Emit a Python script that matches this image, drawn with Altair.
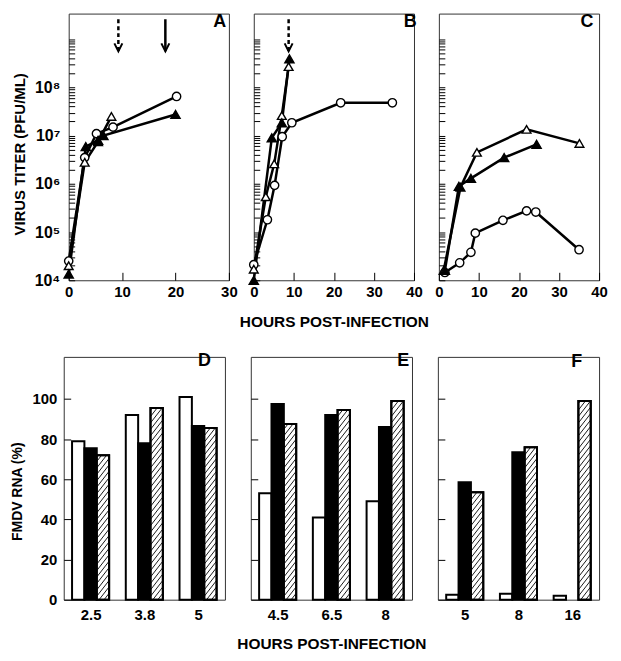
import json
import altair as alt
import pandas as pd

FONT = "Liberation Sans"

# ---------------- Top panels: virus titer (PFU/ml) vs hours ----------------
series_names = ["circle", "open", "filled"]

a_circle_h = [0, 3, 5.2, 8.3, 20.2]
a_circle_v = [2.5e4, 3.5e6, 1.1e7, 1.5e7, 6.5e7]
a_open_h = [0, 3, 5.5, 8]
a_open_v = [2.0e4, 2.8e6, 7.5e6, 2.5e7]
a_filled_h = [0, 3.2, 5.5, 6.5, 20]
a_filled_v = [1.35e4, 5.9e6, 8.0e6, 1.0e7, 2.75e7]

b_circle_h = [0, 3.4, 5.2, 7.1, 9.5, 21.7, 34.6]
b_circle_v = [2.1e4, 1.8e5, 9.3e5, 9.5e6, 1.85e7, 4.8e7, 4.8e7]
b_open_h = [0, 3, 5.1, 7, 8.7]
b_open_v = [1.7e4, 5.4e5, 2.6e6, 2.6e7, 2.7e8]
b_filled_h = [0, 4.5, 7, 8.9]
b_filled_v = [1.0e4, 9.0e6, 1.85e7, 3.9e8]

c_circle_h = [1.5, 5.2, 8, 9.1, 16, 21.9, 24.2, 35]
c_circle_v = [1.45e4, 2.3e4, 3.8e4, 9.5e4, 1.75e5, 2.75e5, 2.6e5, 4.3e4]
c_open_h = [1.2, 5.4, 9.5, 21.9, 35.1]
c_open_v = [1.6e4, 8.5e5, 4.5e6, 1.35e7, 6.9e6]
c_filled_h = [1.5, 5, 8, 16.3, 24.4]
c_filled_v = [1.6e4, 8.9e5, 1.3e6, 3.5e6, 6.6e6]

# arrows (hour, style) drawn from arrow_top down to arrow_tip
a_arrow_h = [9.3, 18.1]
a_arrow_style = ["dashed", "solid"]
b_arrow_h = [8.7]
b_arrow_style = ["dashed"]
arrow_top = 2.6e9
arrow_tip = 5.6e8

decade_vals = [1e4, 1e5, 1e6, 1e7, 1e8]
decade_text = ["10⁴", "10⁵", "10⁶", "10⁷", "10⁸"]

# ---------------- Bottom panels: FMDV RNA (%) ----------------
kinds = ["white", "black", "hatched"]

d_hours = ["2.5", "3.8", "5"]
d_white = [79, 92, 101]
d_black = [75.5, 78, 86.5]
d_hatched = [72, 95.5, 85.5]

e_hours = ["4.5", "6.5", "8"]
e_white = [53, 41, 49]
e_black = [97.5, 92, 86]
e_hatched = [87.5, 94.5, 99]

f_hours = ["5", "8", "16"]
f_white = [2.5, 3, 2]
f_black = [58.5, 73.5, 0]
f_hatched = [53.5, 76, 99]

# ---------------- helpers ----------------
ytick_vals = [m * 10 ** k for k in range(4, 9) for m in range(1, 10)] + [1e9]
label_expr = " : ".join(
    f"datum.value == {v} ? '{t}'" for v, t in zip(decade_vals, decade_text)
) + " : ''"


def letter_title(letter, dx, dy):
    return alt.TitleParams(
        text=letter, anchor="end", orient="top", offset=0, dx=dx, dy=dy,
        baseline="alphabetic", font=FONT, fontSize=18, fontWeight="bold",
        color="black",
    )


def growth_panel(series, arrows, xmax, xticks, letter, ldx, first, middle):
    rows = []
    for name, (hs, vs) in zip(series_names, series):
        for h, v in zip(hs, vs):
            rows.append({"hour": h, "titer": v, "series": name})
    df = pd.DataFrame(rows)

    xs = alt.Scale(domain=[0, xmax], nice=False, zero=False)
    ys = alt.Scale(type="log", domain=[1e4, 3.4e9], nice=False)
    xaxis = alt.Axis(
        values=xticks, tickSize=8, offset=-8, domain=False, grid=False,
        labelFlush=False, labelPadding=4,
        title="HOURS POST-INFECTION" if middle else None,
        titlePadding=15, titleFontSize=15.5,
    )
    yaxis = alt.Axis(
        values=ytick_vals, labelExpr=label_expr, labels=first, tickSize=6,
        offset=-6, domain=False, grid=False, labelPadding=9,
        labelOverlap=False, labelFontSize=16,
        title="VIRUS TITER (PFU/ML)" if first else None,
        titlePadding=7, titleY=141, titleFontSize=15,
    )
    x = alt.X("hour:Q", scale=xs, axis=xaxis)
    y = alt.Y("titer:Q", scale=ys, axis=yaxis)

    base = alt.Chart(df)
    lines = base.mark_line(color="black", strokeWidth=2.5).encode(
        x=x, y=y, detail="series:N", order="hour:Q"
    )
    points = base.mark_point(filled=True, stroke="black", strokeWidth=1.4, opacity=1).encode(
        x=x, y=y,
        shape=alt.Shape("series:N", scale=alt.Scale(domain=series_names,
                        range=["circle", "triangle-up", "triangle-up"]), legend=None),
        fill=alt.Fill("series:N", scale=alt.Scale(domain=series_names,
                      range=["white", "white", "black"]), legend=None),
        size=alt.Size("series:N", scale=alt.Scale(domain=series_names,
                      range=[70, 85, 85]), legend=None),
    )
    layers = [lines, points]
    if arrows:
        hs, styles = arrows
        adf = pd.DataFrame({"hour": hs, "style": styles,
                            "top": [arrow_top] * len(hs), "tip": [arrow_tip] * len(hs)})
        abase = alt.Chart(adf)
        shaft = abase.mark_rule(color="black", strokeWidth=2.5).encode(
            x=alt.X("hour:Q", scale=xs, axis=xaxis),
            y=alt.Y("top:Q", scale=ys, axis=yaxis),
            y2="tip:Q",
            strokeDash=alt.StrokeDash("style:N", scale=alt.Scale(
                domain=["dashed", "solid"], range=[[4, 3], [1, 0]]), legend=None),
        )
        head = abase.mark_point(shape="M-0.8,-1.6L0,0L0.8,-1.6", filled=False,
                                color="black", strokeWidth=2, size=100, opacity=1).encode(
            x=alt.X("hour:Q", scale=xs, axis=xaxis),
            y=alt.Y("tip:Q", scale=ys, axis=yaxis),
        )
        layers += [shaft, head]
    return alt.layer(*layers).properties(
        width=161, height=268, title=letter_title(letter, ldx, 31)
    )


BW = 0.23      # bar width in group units
RISE = 7.9     # hatch rise across one bar (value units)
GAP = 3.2      # vertical gap between hatch lines (value units)


def rna_panel(hours, white, black, hatched, letter, ldx, ldy, first, middle):
    rows = []
    for g, lab in enumerate(hours):
        for s, vals in enumerate([white, black, hatched]):
            rows.append({"g": g, "hour": lab, "s": s, "kind": kinds[s], "value": vals[g]})
    df = pd.DataFrame(rows)

    xs = alt.Scale(domain=[0, 3], nice=False, zero=False)
    ys = alt.Scale(domain=[0, 121], nice=False)
    xaxis = alt.Axis(
        values=[0.5, 1.5, 2.5],
        labelExpr=f"{json.dumps(hours)}[floor(datum.value)]".replace('"', "'"),
        ticks=False, domain=False, grid=False, labelPadding=8,
        title="HOURS POST-INFECTION" if middle else None,
        titlePadding=14, titleFontSize=15.5,
    )
    yaxis = alt.Axis(
        values=[0, 20, 40, 60, 80, 100], tickSize=7, offset=-7, domain=False,
        grid=False, labels=first, labelPadding=7,
        title="FMDV RNA (%)" if first else None, titlePadding=7, titleY=135,
        titleFontSize=14,
    )

    base = alt.Chart(df).transform_calculate(
        xc=f"datum.g + 0.5 + (datum.s - 1) * {BW}"
    ).transform_calculate(
        x0=f"datum.xc - {BW / 2}", x1=f"datum.xc + {BW / 2}"
    )

    bars = base.transform_filter("datum.value > 0").mark_rect(
        stroke="black", strokeWidth=2, opacity=1
    ).encode(
        x=alt.X("x0:Q", scale=xs, axis=xaxis),
        x2="x1:Q",
        y=alt.Y("value:Q", scale=ys, axis=yaxis),
        y2=alt.datum(0),
        fill=alt.Fill("kind:N", scale=alt.Scale(domain=kinds,
                      range=["white", "black", "white"]), legend=None),
    )

    hatch = base.transform_filter("datum.kind == 'hatched'").transform_calculate(
        k=f"sequence(0, ceil((datum.value + {RISE}) / {GAP}) + 1)"
    ).transform_flatten(["k"]).transform_calculate(
        yl=f"datum.k * {GAP} - {RISE}"
    ).transform_calculate(
        yr=f"datum.yl + {RISE}"
    ).transform_filter(
        "datum.yr > 0 && datum.yl < datum.value"
    ).transform_calculate(
        xa=f"datum.yl < 0 ? datum.x0 + (-datum.yl) / {RISE} * {BW} : datum.x0",
        ya="max(datum.yl, 0)",
        xb=f"datum.yr > datum.value ? datum.x1 - (datum.yr - datum.value) / {RISE} * {BW} : datum.x1",
        yb="min(datum.yr, datum.value)",
    ).mark_rule(color="black", strokeWidth=0.9).encode(
        x=alt.X("xa:Q", scale=xs, axis=xaxis),
        x2="xb:Q",
        y=alt.Y("ya:Q", scale=ys, axis=yaxis),
        y2="yb:Q",
    )

    outline = base.transform_filter("datum.kind == 'hatched'").mark_rect(
        fillOpacity=0, stroke="black", strokeWidth=2
    ).encode(
        x=alt.X("x0:Q", scale=xs, axis=xaxis),
        x2="x1:Q",
        y=alt.Y("value:Q", scale=ys, axis=yaxis),
        y2=alt.datum(0),
    )
    return alt.layer(bars, hatch, outline).properties(
        width=162, height=244, title=letter_title(letter, ldx, ldy)
    )


A = growth_panel([(a_circle_h, a_circle_v), (a_open_h, a_open_v), (a_filled_h, a_filled_v)],
                 (a_arrow_h, a_arrow_style), 30, [0, 10, 20, 30], "A", -11, True, False)
B = growth_panel([(b_circle_h, b_circle_v), (b_open_h, b_open_v), (b_filled_h, b_filled_v)],
                 (b_arrow_h, b_arrow_style), 40, [0, 10, 20, 30, 40], "B", -12, False, True)
C = growth_panel([(c_circle_h, c_circle_v), (c_open_h, c_open_v), (c_filled_h, c_filled_v)],
                 None, 40, [0, 10, 20, 30, 40], "C", -14, False, False)

D = rna_panel(d_hours, d_white, d_black, d_hatched, "D", -14, 27, True, False)
E = rna_panel(e_hours, e_white, e_black, e_hatched, "E", -17, 27, False, True)
F = rna_panel(f_hours, f_white, f_black, f_hatched, "F", -17, 28, False, False)

# invisible 5px spacer so the top row starts slightly right of the bottom row
spacer = alt.Chart(pd.DataFrame({"v": [0]})).mark_point(opacity=0).encode(
    x=alt.X("v:Q", axis=None), y=alt.Y("v:Q", axis=None)
).properties(width=5, height=1, view=alt.ViewBackground(stroke=None))

top_panels = alt.hconcat(A, B, C, spacing=25, bounds="flush")
top_row = alt.hconcat(spacer, top_panels, spacing=0, bounds="flush")
bottom_row = alt.hconcat(D, E, F, spacing=26, bounds="flush")

chart = alt.vconcat(top_row, bottom_row, spacing=21).resolve_scale(
    fill="independent", shape="independent", size="independent",
    strokeDash="independent",
).properties(
    padding={"left": 2, "top": 1, "right": 5, "bottom": 5},
    background="white",
).configure_axis(
    labelFont=FONT, labelFontSize=15, labelFontWeight="bold", labelColor="black",
    titleFont=FONT, titleFontSize=14, titleFontWeight="bold", titleColor="black",
    tickColor="black", tickWidth=1,
).configure_view(stroke="#333", strokeWidth=1)

chart.save("out.html", embed_options={"renderer": "svg", "actions": False})
